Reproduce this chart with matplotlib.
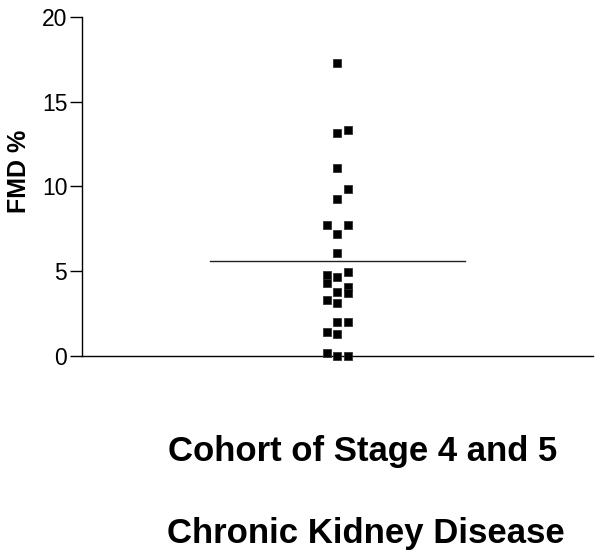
import numpy as np
import matplotlib as mpl
import matplotlib.pyplot as plt

mpl.rcParams['font.family'] = ['Liberation Sans', 'DejaVu Sans']

# FMD % values, with their column in the swarm (-1 left, 0 centre, 1 right)
fmd = [17.27, 13.17, 13.33, 11.07, 9.85, 9.24, 7.73, 7.73, 7.20, 6.06,
       4.97, 4.78, 4.64, 4.29, 4.09, 3.79, 3.69, 3.30, 3.11,
       2.02, 2.02, 1.43, 1.30, 0.15, 0.0, 0.0]
column = [0, 0, 1, 0, 1, 0, -1, 1, 0, 0,
          1, -1, 0, -1, 1, 0, 1, -1, 0,
          0, 1, -1, 0, -1, 0, 1]
yticks = [0, 5, 10, 15, 20]

fmd = np.array(fmd)
xs = np.array(column) * 0.04

fig = plt.figure(figsize=(6.02, 5.58), dpi=100)
ax = fig.add_axes([0.136, 0.362, 0.849, 0.608])

ax.plot(xs, fmd, ls='', marker='s', ms=5.5, mfc='black', mec='#333333', mew=0.6,
        clip_on=False, zorder=3)
mean = fmd.mean()
ax.plot([-0.5, 0.5], [mean, mean], color='#222222', lw=1.0)

ax.set_xlim(-1, 1)
ax.set_ylim(0, 20)
ax.set_yticks(yticks)
ax.set_xticks([])
ax.spines['top'].set_visible(False)
ax.spines['right'].set_visible(False)
for s in ['left', 'bottom']:
    ax.spines[s].set_linewidth(1.0)
ax.tick_params(axis='y', labelsize=16.5, length=9, width=1.0, pad=1.5)
ax.set_ylabel('FMD %', fontsize=18, fontweight='bold')
ax.yaxis.set_label_coords(-0.10, 0.545)

fig.text(0.602, 0.174, 'Cohort of Stage 4 and 5', ha='center', va='baseline',
         fontsize=25, fontweight='bold')
fig.text(0.608, 0.027, 'Chronic Kidney Disease', ha='center', va='baseline',
         fontsize=25, fontweight='bold')

fig.savefig('out.png', dpi=100)
